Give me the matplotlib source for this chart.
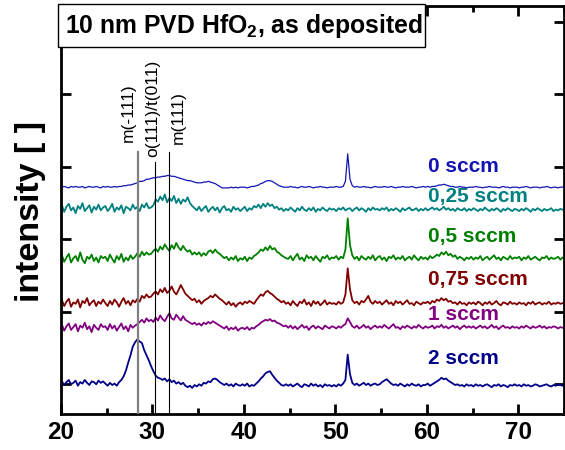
import numpy as np
import matplotlib.pyplot as plt
from matplotlib.patches import Rectangle

plt.rcParams["font.family"] = ["Liberation Sans", "DejaVu Sans"]
plt.rcParams["mathtext.fontset"] = "custom"
plt.rcParams["mathtext.rm"] = "Liberation Sans"
plt.rcParams["mathtext.bf"] = "Liberation Sans:bold"

# 2-theta scan from 19.85 to 75.1 deg in 0.25 deg steps (20 points per row = 5 deg)
two_theta = 19.85 + 0.25 * np.arange(222)

sccm_0 = [
    273, 272, 273, 272, 271, 273, 272, 273, 272, 272, 273, 271, 272, 273, 272, 272, 273, 272, 271, 273,
    272, 273, 272, 272, 273, 272, 273, 273, 274, 274, 275, 275, 276, 277, 278, 280, 280, 281, 283, 283,
    284, 285, 285, 286, 286, 287, 287, 288, 288, 287, 287, 286, 285, 284, 283, 282, 281, 281, 280, 279,
    278, 278, 278, 279, 279, 280, 279, 278, 277, 275, 273, 271, 271, 271, 271, 272, 271, 272, 271, 272,
    272, 272, 271, 272, 273, 273, 274, 275, 277, 278, 280, 281, 281, 280, 278, 276, 274, 273, 272, 272,
    272, 273, 272, 272, 271, 272, 273, 272, 272, 273, 272, 271, 272, 272, 273, 272, 272, 271, 272, 272,
    272, 273, 272, 272, 273, 280, 318, 283, 274, 272, 273, 272, 272, 273, 272, 272, 271, 272, 273, 272,
    272, 272, 273, 272, 272, 273, 272, 271, 272, 272, 273, 272, 272, 272, 273, 272, 271, 272, 272, 273,
    272, 273, 272, 273, 273, 274, 275, 275, 276, 275, 274, 273, 273, 272, 272, 273, 272, 272, 271, 272,
    272, 272, 273, 272, 272, 271, 272, 272, 273, 272, 272, 272, 271, 272, 273, 272, 272, 271, 272, 272,
    272, 271, 272, 272, 273, 272, 271, 272, 272, 272, 271, 272, 272, 273, 272, 271, 272, 272, 271, 272,
    272, 272,
]

sccm_025 = [
    241, 247, 238, 245, 249, 240, 244, 236, 246, 242, 250, 239, 243, 247, 237, 245, 241, 248, 240, 244,
    246, 239, 243, 249, 238, 244, 241, 247, 236, 245, 243, 240, 248, 242, 245, 239, 248, 244, 250, 243,
    244, 247, 255, 252, 259, 254, 262, 251, 257, 253, 260, 250, 256, 249, 255, 252, 258, 250, 246, 243,
    240, 245, 239, 243, 246, 238, 242, 245, 240, 244, 237, 243, 246, 240, 242, 238, 245, 241, 243, 239,
    242, 245, 239, 243, 241, 246, 244, 248, 243, 249, 245, 250, 246, 248, 243, 245, 241, 243, 239, 242,
    240, 244, 241, 238, 243, 240, 245, 241, 239, 243, 240, 244, 238, 242, 240, 244, 241, 239, 243, 241,
    242, 239, 243, 241, 244, 240, 242, 243, 239, 242, 244, 240, 243, 241, 238, 243, 240, 244, 241, 242,
    240, 243, 241, 244, 239, 242, 240, 243, 241, 238, 243, 240, 242, 244, 240, 241, 243, 239, 242, 240,
    243, 240, 242, 244, 241, 243, 240, 242, 245, 241, 243, 240, 242, 239, 243, 241, 240, 243, 239, 242,
    240, 243, 241, 239, 242, 240, 244, 241, 239, 242, 240, 243, 241, 238, 242, 240, 243, 241, 239, 242,
    241, 239, 242, 240, 243, 241, 238, 242, 240, 243, 241, 239, 242, 240, 241, 243, 239, 241, 240, 242,
    241, 240,
]

sccm_05 = [
    171, 178, 169, 175, 180, 168, 174, 177, 170, 182, 172, 167, 176, 173, 179, 170, 175, 168, 177, 174,
    176, 170, 179, 173, 168, 177, 172, 180, 169, 175, 171, 178, 173, 176, 181, 176, 183, 178, 182, 179,
    180, 184, 187, 183, 190, 186, 193, 188, 184, 192, 187, 195, 189, 185, 191, 186, 183, 185, 179, 182,
    179, 182, 177, 181, 178, 183, 185, 181, 186, 182, 180, 177, 174, 176, 171, 175, 172, 177, 170, 174,
    172, 176, 170, 175, 173, 177, 179, 182, 186, 184, 189, 185, 191, 186, 188, 183, 181, 178, 176, 174,
    173, 177, 171, 176, 180, 172, 175, 170, 178, 174, 176, 171, 177, 173, 169, 176, 174, 178, 172, 175,
    174, 177, 172, 176, 174, 186, 229, 192, 178, 173, 176, 171, 177, 174, 172, 176, 173, 178, 171, 175,
    177, 172, 175, 170, 176, 174, 178, 172, 175, 173, 177, 171, 174, 176, 172, 178, 174, 171, 176, 173,
    175, 172, 177, 174, 176, 179, 177, 182, 179, 183, 178, 180, 176, 178, 173, 176, 174, 171, 175, 173,
    176, 172, 175, 173, 177, 171, 174, 176, 172, 175, 178, 173, 175, 171, 176, 174, 172, 177, 173, 175,
    174, 176, 171, 175, 173, 177, 172, 174, 176, 173, 171, 175, 174, 177, 172, 175, 173, 174, 176, 172,
    175, 174,
]

sccm_075 = [
    110, 116, 108, 114, 118, 107, 113, 111, 117, 106, 115, 112, 119, 109, 113, 116, 108, 114, 111, 117,
    112, 108, 115, 110, 117, 113, 107, 114, 119, 111, 115, 109, 116, 113, 118, 114, 122, 119, 124, 120,
    121, 125, 128, 124, 131, 127, 133, 126, 129, 135, 128, 124, 130, 137, 131, 125, 122, 119, 116, 118,
    113, 116, 111, 115, 117, 119, 122, 120, 124, 121, 118, 116, 113, 110, 114, 109, 112, 107, 111, 113,
    110, 114, 112, 115, 113, 111, 116, 120, 124, 122, 127, 129, 126, 124, 121, 118, 116, 113, 115, 111,
    113, 109, 115, 111, 108, 114, 112, 117, 110, 113, 108, 115, 111, 114, 109, 112, 116, 110, 113, 111,
    112, 110, 114, 111, 113, 124, 160, 131, 116, 112, 114, 110, 115, 113, 117, 122, 114, 111, 115, 112,
    114, 110, 113, 116, 111, 113, 109, 115, 112, 114, 110, 113, 116, 111, 112, 109, 114, 112, 110, 113,
    112, 114, 111, 115, 113, 117, 115, 119, 116, 118, 114, 115, 112, 113, 110, 114, 111, 112, 109, 113,
    111, 113, 110, 114, 112, 109, 113, 111, 114, 110, 112, 115, 111, 109, 113, 112, 110, 114, 111, 112,
    110, 113, 111, 112, 109, 113, 111, 114, 110, 112, 113, 110, 112, 111, 114, 110, 112, 111, 113, 111,
    112, 111,
]

sccm_1 = [
    77, 82, 74, 80, 84, 75, 79, 83, 73, 81, 78, 85, 76, 80, 72, 82, 78, 75, 83, 79,
    80, 75, 83, 77, 81, 74, 79, 84, 76, 80, 73, 82, 78, 81, 83, 86, 89, 85, 91, 87,
    89, 86, 92, 88, 95, 90, 87, 93, 98, 91, 89, 96, 92, 88, 94, 89, 87, 85, 83, 85,
    82, 84, 81, 85, 83, 86, 84, 87, 85, 83, 81, 79, 77, 80, 75, 78, 76, 79, 74, 77,
    78, 76, 79, 75, 78, 77, 80, 82, 85, 87, 89, 88, 90, 87, 88, 85, 84, 82, 80, 81,
    78, 81, 77, 80, 76, 79, 82, 78, 80, 75, 79, 81, 77, 80, 78, 76, 81, 79, 77, 80,
    79, 77, 80, 78, 81, 83, 91, 86, 80, 78, 81, 77, 79, 82, 78, 80, 76, 79, 81, 78,
    80, 78, 82, 79, 77, 80, 83, 78, 79, 76, 80, 78, 81, 79, 77, 80, 78, 82, 79, 77,
    80, 78, 79, 81, 77, 80, 79, 82, 78, 80, 77, 79, 81, 78, 80, 76, 79, 81, 78, 80,
    78, 80, 77, 79, 81, 78, 80, 77, 79, 82, 78, 80, 76, 79, 81, 78, 79, 77, 80, 78,
    79, 77, 80, 78, 81, 79, 77, 80, 78, 79, 81, 78, 80, 77, 79, 78, 80, 79, 77, 79,
    78, 79,
]

sccm_2 = [
    1, 4, -1, 3, 6, 0, 2, 5, -2, 3, 1, 6, 2, -1, 4, 3, 0, 5, 2, 4,
    1, -2, 2, -1, 1, -2, 3, 6, 11, 19, 30, 40, 52, 58, 62, 59, 57, 47, 40, 33,
    25, 18, 12, 9, 8, 6, 8, 4, 7, 3, 5, 1, 3, 0, 2, -2, -4, -2, -5, -1,
    -3, 0, -2, 2, 1, 4, 3, 7, 8, 6, 3, 1, -1, 1, -2, 0, -3, 1, -1, -2,
    0, -2, 1, -3, -1, -2, 1, 4, 8, 11, 15, 17, 18, 13, 9, 5, 2, -1, -2, 0,
    -2, 0, -3, -1, 1, -2, -4, 0, -1, -3, 1, -2, 0, -3, -1, -4, 0, -2, -1, -3,
    -1, -3, 0, -2, 1, 6, 41, 14, 2, -1, 1, -2, 0, 2, -1, 1, -2, 0, 1, -1,
    0, 3, 5, 7, 4, 1, -1, 0, -2, 1, -1, -3, 0, -2, 1, -1, -2, 0, -3, -1,
    -1, 1, -2, 0, 2, 4, 6, 9, 7, 8, 5, 3, 1, -1, 0, -2, -1, -3, 0, -2,
    -1, -3, 0, -2, -1, -3, -1, 0, -2, -4, -1, -2, 0, -3, -1, -2, -4, -1, -2, 0,
    -2, -1, -3, 0, -2, -1, -3, -2, 0, -1, -3, -2, -1, 0, -2, -3, -1, -2, 0, -1,
    -2, -1,
]

series = [sccm_0, sccm_025, sccm_05, sccm_075, sccm_1, sccm_2]
series_labels = ["0 sccm", "0,25 sccm", "0,5 sccm", "0,75 sccm", "1 sccm", "2 sccm"]
series_colors = ["#1414b4", "#008080", "#008000", "#800000", "#800080", "#000088"]
series_lw = [0.9, 1.3, 1.3, 1.3, 1.3, 1.3]
label_y = [300, 259, 204, 145, 96, 36]

# reflection positions (deg) and how high their marker lines reach
refl_pos = [28.4, 30.3, 31.8]
refl_names = ["m(-111)", "o(111)/t(011)", "m(111)"]
refl_top = [320, 307, 320]
refl_name_y = [335, 314, 332]
refl_name_x = [27.35, 30.08, 32.8]

fig = plt.figure(figsize=(5.65, 4.5), dpi=100)
ax = fig.add_axes([61 / 565, 36 / 450, 503 / 565, 408 / 450])

for y, c, lw in zip(series, series_colors, series_lw):
    ax.plot(two_theta, y, color=c, lw=lw, zorder=2)

ymin, ymax = -41, 522
for pos, top, c, lw in zip(refl_pos, refl_top, ["#808080", "black", "black"], [1.6, 0.8, 0.8]):
    ax.plot([pos, pos], [ymin, top], color=c, lw=lw, zorder=3)

for name, x, y in zip(refl_names, refl_name_x, refl_name_y):
    ax.text(x, y, name, rotation=90, ha="center", va="bottom", fontsize=12.5)

for name, y, c in zip(series_labels, label_y, series_colors):
    ax.text(60.1, y, name, color=c, ha="left", va="center", fontsize=15, fontweight="bold")

ax.set_xlim(20, 75)
ax.set_ylim(ymin, ymax)
ax.set_xticks([20, 30, 40, 50, 60, 70])
ax.set_xticks([25, 35, 45, 55, 65, 75], minor=True)
ax.set_yticks([0, 100, 200, 300, 400, 500])
ax.set_yticklabels([])
ax.tick_params(which="both", direction="in", top=True, right=True, width=2)
ax.tick_params(which="major", length=7, labelsize=17.5, pad=5)
ax.tick_params(which="minor", length=4)
for lab in ax.get_xticklabels():
    lab.set_fontweight("bold")
for s in ax.spines.values():
    s.set_linewidth(2)

fig.text(31 / 565, 1 - 212 / 450, "intensity [ ]", rotation=90, ha="center", va="center",
         fontsize=24.5, fontweight="bold")

fig.add_artist(Rectangle((58 / 565, 1 - 47 / 450), 367 / 565, 43 / 450, transform=fig.transFigure,
                         facecolor="white", edgecolor="black", lw=1, zorder=5))
fig.text(65 / 565, 1 - 26 / 450, r"10 nm PVD HfO$_\mathbf{2}$, as deposited", ha="left", va="center",
         fontsize=17.8, fontweight="bold", zorder=6)

fig.savefig("out.png", dpi=100)
